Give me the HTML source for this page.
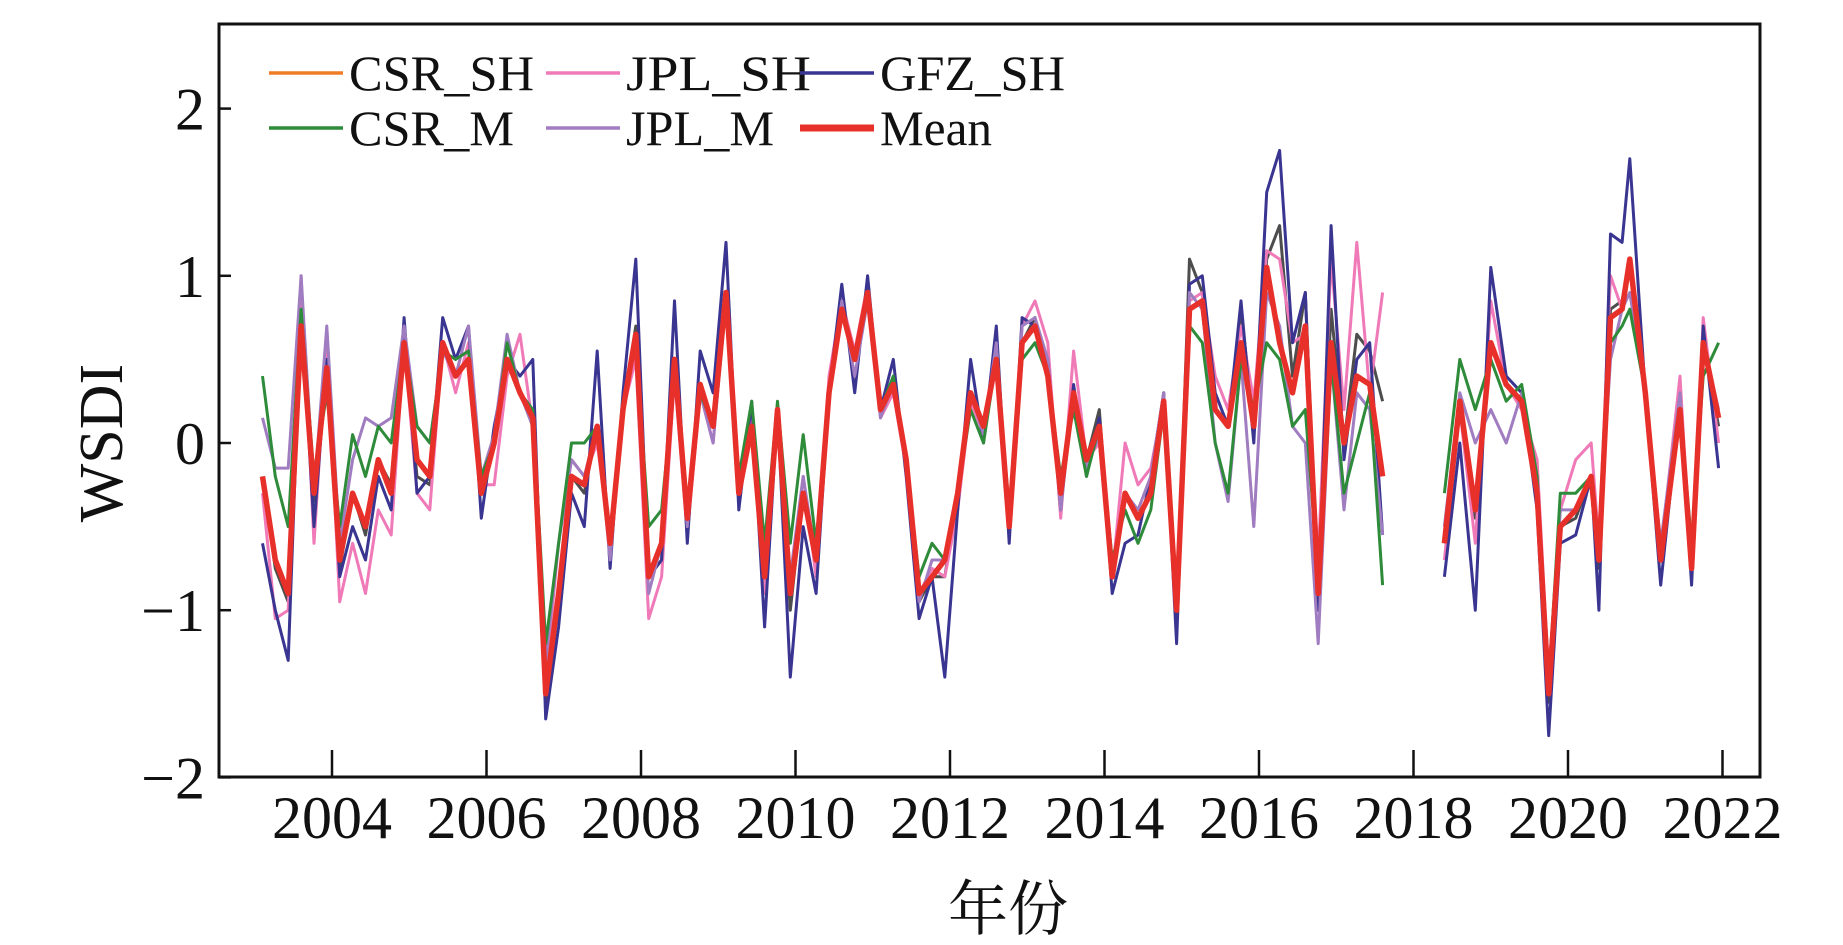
<!DOCTYPE html>
<html><head><meta charset="utf-8"><style>
html,body{margin:0;padding:0;background:#fff;}
svg{display:block;}
text{font-family:"Liberation Serif","Noto Serif CJK SC",serif;fill:#111;}
</style></head><body>
<svg id="chart" width="1843" height="945" viewBox="0 0 1843 945">
<g id="series"></g>
<rect x="219" y="24" width="1541" height="753" fill="none" stroke="#111" stroke-width="3"/>
<g id="axes"></g>
<g id="legend"></g>
<text x="122" y="443" font-size="62" text-anchor="middle" transform="rotate(-90 122 443)">WSDI</text>
<text x="1008" y="930" font-size="60" text-anchor="middle">年份</text>
</svg>
<script>
const yTicks=[2,1,0,-1,-2];
const yTickLabels=["2","1","0","\u22121","\u22122"];
const xTicks=[2004,2006,2008,2010,2012,2014,2016,2018,2020,2022];
const seriesNames=["CSR_SH","JPL_SH","GFZ_SH","CSR_M","JPL_M","Mean"];
const seg1Start=2003.1;
const seg1Step=1/6;
const seg2Times=[2018.4,2018.6,2018.8,2019.0,2019.2,2019.4,2019.6,2019.75,2019.9,2020.1,2020.3,2020.4,2020.55,2020.7,2020.8,2021.0,2021.2,2021.45,2021.6,2021.75,2021.95];
const csrSH1=[-0.2,-0.75,-0.95,0.75,-0.35,0.45,-0.75,-0.3,-0.55,-0.1,-0.25,0.6,-0.2,-0.25,0.6,0.4,0.5,-0.3,0.0,0.5,0.3,0.1,-1.55,-0.95,-0.2,-0.3,0.1,-0.65,0.2,0.7,-0.8,-0.7,0.5,-0.5,0.35,0.1,0.9,-0.3,0.1,-0.8,0.2,-1.0,-0.3,-0.75,0.3,0.85,0.5,0.95,0.2,0.35,-0.1,-0.95,-0.8,-0.8,-0.3,0.3,0.1,0.55,-0.5,0.6,0.75,0.4,-0.3,0.3,-0.1,0.2,-0.8,-0.3,-0.45,-0.3,0.3,-1.05,1.1,0.9,0.2,0.1,0.8,0.1,1.1,1.3,0.4,0.9,-0.9,0.8,0.0,0.65,0.55,0.25];
const jplSH1=[-0.3,-1.05,-1.0,1.0,-0.6,0.6,-0.95,-0.6,-0.9,-0.4,-0.55,0.6,-0.3,-0.4,0.6,0.3,0.6,-0.25,-0.25,0.4,0.65,0.1,-1.4,-0.6,-0.1,-0.2,0.0,-0.6,0.2,0.5,-1.05,-0.8,0.4,-0.55,0.3,0.0,0.9,-0.2,0.15,-0.9,0.2,-0.8,-0.2,-0.8,0.4,0.85,0.55,0.95,0.15,0.3,-0.15,-0.9,-0.75,-0.8,-0.4,0.25,0.05,0.65,-0.55,0.7,0.85,0.6,-0.45,0.55,-0.1,0.0,-0.8,0.0,-0.25,-0.15,0.25,-1.05,0.85,0.9,0.4,0.2,0.7,0.25,1.15,1.1,0.6,0.65,-0.7,1.1,0.2,1.2,0.3,0.9];
const gfzSH1=[-0.6,-1.0,-1.3,0.8,-0.5,0.5,-0.8,-0.5,-0.7,-0.2,-0.4,0.75,-0.3,-0.2,0.75,0.5,0.7,-0.45,0.1,0.5,0.4,0.5,-1.65,-1.1,-0.3,-0.5,0.55,-0.75,0.3,1.1,-0.8,-0.7,0.85,-0.6,0.55,0.3,1.2,-0.4,0.25,-1.1,0.2,-1.4,-0.5,-0.9,0.3,0.95,0.3,1.0,0.2,0.5,-0.2,-1.05,-0.8,-1.4,-0.4,0.5,0.0,0.7,-0.6,0.75,0.7,0.5,-0.4,0.35,-0.2,0.15,-0.9,-0.6,-0.55,-0.2,0.3,-1.2,0.95,1.0,0.3,0.1,0.85,0.0,1.5,1.75,0.6,0.9,-1.0,1.3,-0.1,0.5,0.6,-0.55];
const csrM1=[0.4,-0.2,-0.5,0.8,-0.2,0.3,-0.5,0.05,-0.2,0.1,0.0,0.6,0.1,0.0,0.55,0.5,0.55,-0.2,0.0,0.6,0.3,0.2,-1.2,-0.6,0.0,0.0,0.1,-0.6,0.25,0.6,-0.5,-0.4,0.4,-0.4,0.3,0.1,0.85,-0.2,0.25,-0.6,0.25,-0.6,0.05,-0.6,0.3,0.8,0.5,0.85,0.2,0.4,-0.1,-0.8,-0.6,-0.7,-0.3,0.2,0.0,0.5,-0.4,0.5,0.6,0.4,-0.2,0.2,-0.2,0.1,-0.7,-0.4,-0.6,-0.4,0.2,-1.0,0.7,0.6,0.0,-0.3,0.5,0.2,0.6,0.5,0.1,0.2,-0.8,0.5,-0.3,0.0,0.3,-0.85];
const jplM1=[0.15,-0.15,-0.15,1.0,-0.3,0.7,-0.6,-0.1,0.15,0.1,0.15,0.7,0.1,0.0,0.55,0.4,0.7,-0.2,0.05,0.65,0.3,0.1,-1.3,-0.6,-0.1,-0.2,0.1,-0.7,0.2,0.6,-0.9,-0.6,0.45,-0.5,0.3,0.0,0.85,-0.3,0.1,-0.75,0.2,-0.8,-0.2,-0.7,0.3,0.85,0.4,0.85,0.15,0.35,-0.15,-0.95,-0.7,-0.7,-0.3,0.3,0.05,0.6,-0.5,0.7,0.75,0.5,-0.4,0.3,-0.15,0.05,-0.75,-0.3,-0.4,-0.2,0.3,-1.0,0.9,0.8,0.0,-0.35,0.5,-0.5,0.9,0.7,0.1,0.0,-1.2,0.5,-0.4,0.3,0.2,-0.55];
const mean1=[-0.2,-0.7,-0.9,0.7,-0.3,0.45,-0.7,-0.3,-0.5,-0.1,-0.3,0.6,-0.1,-0.2,0.6,0.4,0.5,-0.3,0.0,0.5,0.3,0.15,-1.5,-0.9,-0.2,-0.25,0.1,-0.6,0.2,0.65,-0.8,-0.6,0.5,-0.45,0.35,0.1,0.9,-0.3,0.1,-0.8,0.2,-0.9,-0.3,-0.7,0.3,0.8,0.5,0.9,0.2,0.35,-0.1,-0.9,-0.8,-0.7,-0.3,0.3,0.1,0.5,-0.5,0.6,0.7,0.4,-0.3,0.3,-0.1,0.1,-0.8,-0.3,-0.45,-0.3,0.25,-1.0,0.8,0.85,0.2,0.1,0.6,0.1,1.05,0.6,0.3,0.7,-0.9,0.6,0.0,0.4,0.35,-0.2];
const csrSH2=[-0.6,0.25,-0.45,0.6,0.35,0.25,-0.3,-1.55,-0.5,-0.45,-0.2,-0.75,0.8,0.85,1.1,0.3,-0.7,0.2,-0.75,0.6,0.1];
const jplSH2=[-0.7,0.2,-0.6,0.85,0.35,0.2,-0.1,-1.4,-0.4,-0.1,0.0,-0.6,1.0,0.8,1.1,0.3,-0.65,0.4,-0.8,0.75,0.0];
const gfzSH2=[-0.8,0.0,-1.0,1.05,0.4,0.3,-0.4,-1.75,-0.6,-0.55,-0.2,-1.0,1.25,1.2,1.7,0.3,-0.85,0.25,-0.85,0.7,-0.15];
const csrM2=[-0.3,0.5,0.2,0.5,0.25,0.35,-0.2,-1.45,-0.3,-0.3,-0.2,-0.6,0.6,0.7,0.8,0.3,-0.7,0.2,-0.6,0.4,0.6];
const jplM2=[-0.5,0.3,0.0,0.2,0.0,0.3,-0.2,-1.4,-0.4,-0.4,-0.2,-0.6,0.5,0.8,0.9,0.3,-0.6,0.3,-0.7,0.6,0.2];
const mean2=[-0.6,0.25,-0.4,0.6,0.35,0.25,-0.3,-1.5,-0.5,-0.4,-0.2,-0.7,0.75,0.8,1.1,0.3,-0.7,0.2,-0.75,0.6,0.15];

const NS="http://www.w3.org/2000/svg";
function xs(t){return 332+(t-2004)*77.25;}
function ys(v){return 443+(-v)*167.2;}
function mk(tag,attrs){const e=document.createElementNS(NS,tag);for(const k in attrs)e.setAttribute(k,attrs[k]);return e;}
const styles=[{c:"#4d4d4d",w:3,lc:"#f07c28"},{c:"#f07ab8",w:3},{c:"#3a3591",w:3},{c:"#2e8b3a",w:3},{c:"#a07cc0",w:3},{c:"#e8302a",w:5.5}];
const seg1=[csrSH1,jplSH1,gfzSH1,csrM1,jplM1,mean1];
const seg2=[csrSH2,jplSH2,gfzSH2,csrM2,jplM2,mean2];
const sg=document.getElementById('series');
const order=[0,1,2,4,3,5];
order.forEach(i=>{
  let d="";
  seg1[i].forEach((v,j)=>{d+=(j?"L":"M")+xs(seg1Start+j*seg1Step).toFixed(1)+","+ys(v).toFixed(1);});
  seg2[i].forEach((v,j)=>{d+=(j?"L":"M")+xs(seg2Times[j]).toFixed(1)+","+ys(v).toFixed(1);});
  const p=mk('path',{d:d,fill:"none",stroke:styles[i].c,"stroke-width":styles[i].w,"stroke-linejoin":"round"});
  
  
  sg.appendChild(p);
});
const ax=document.getElementById('axes');
yTicks.forEach((v,i)=>{
  const l=mk('line',{x1:219,x2:231,y1:ys(v),y2:ys(v),stroke:"#111","stroke-width":2.5});
  
  
  ax.appendChild(l);
  const t=mk('text',{x:205,y:ys(v)+21,"font-size":60,"text-anchor":"end"});
  t.textContent=yTickLabels[i];
  
  
  ax.appendChild(t);
});
xTicks.forEach(v=>{
  const l=mk('line',{x1:xs(v),x2:xs(v),y1:777,y2:750,stroke:"#111","stroke-width":2.5});
  
  
  ax.appendChild(l);
  const t=mk('text',{x:xs(v),y:838,"font-size":60,"text-anchor":"middle"});
  t.textContent=String(v);
  
  
  ax.appendChild(t);
});
const lg=document.getElementById('legend');
const lpos=[[269,73],[546,73],[800,73],[269,128],[546,128],[800,128]];
lpos.forEach((pos,i)=>{
  const [x,y]=pos;
  const l=mk('line',{x1:x,x2:x+74,y1:y,y2:y,stroke:styles[i].lc||styles[i].c,"stroke-width":i==5?7:3.5});
  
  
  lg.appendChild(l);
  const t=mk('text',{x:x+80,y:y+17,"font-size":50,"textLength":i==5?112:(i==3?165:(i==4?148:185)),"lengthAdjust":"spacingAndGlyphs"});
  t.textContent=seriesNames[i];
  
  
  lg.appendChild(t);
});
</script>
</body></html>
